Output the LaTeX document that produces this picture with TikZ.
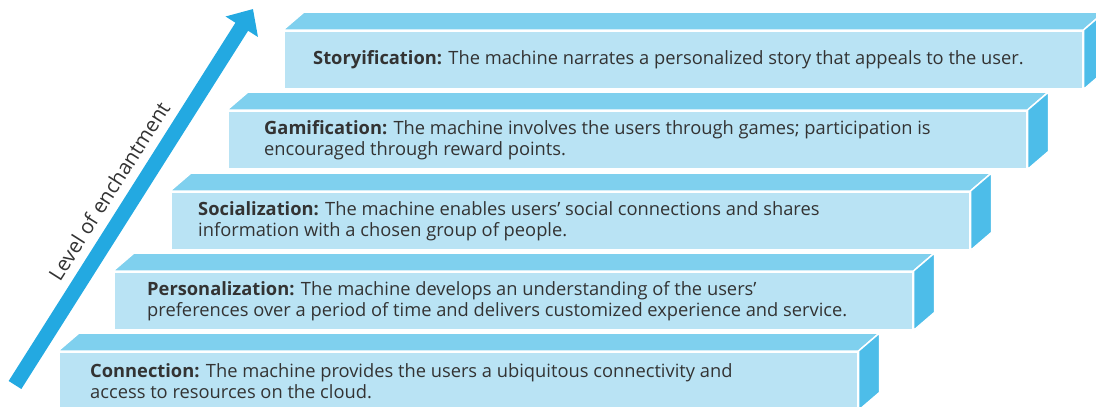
\documentclass[tikz,border=0pt]{standalone}
\usepackage{fontspec}
\setmainfont{Open Sans}
\usetikzlibrary{arrows.meta}
\definecolor{frontc}{HTML}{B9E3F4}
\definecolor{topc}{HTML}{7FD0EE}
\definecolor{sidec}{HTML}{4DBDE9}
\definecolor{arrowc}{HTML}{23A9E1}
\definecolor{textc}{HTML}{333333}
\tikzset{
  front/.style={rectangle, fill=frontc, draw=white, line width=1.5pt, minimum width=799pt, minimum height=58pt, anchor=north west, inner sep=0pt},
  topface/.style={fill=topc, draw=white, line width=1.5pt, line join=miter},
  sideface/.style={fill=sidec, draw=white, line width=1.5pt, line join=miter},
  label/.style={anchor=west, align=left, text=textc, inner sep=0pt, font=\fontsize{18.3pt}{21pt}\selectfont},
  axislabel/.style={anchor=center, text=textc, inner sep=0pt, font=\fontsize{20.5pt}{22pt}\selectfont},
  enchant/.style={draw=arrowc, line width=15pt, -{Triangle[length=21pt, width=37pt]}},
}
\newcommand{\stepbox}[5]{% name, x, y, inset, text
  \node[front] (#1) at (#2,#3) {};
  \path[topface] (#1.north west) -- ++(21,-18) -- ([xshift=21pt,yshift=18pt]#1.north east) -- (#1.north east) -- cycle;
  \path[sideface] (#1.north east) -- ++(21,-18) -- ([xshift=21pt,yshift=18pt]#1.south east) -- (#1.south east) -- cycle;
  \node[label] (#1t) at ([xshift=#4pt]#1.west) {#5};
}
\begin{document}
\begin{tikzpicture}[x=1pt, y=-1pt]
\useasboundingbox (0,0) rectangle (1096,407);
\stepbox{s1}{58}{351}{32}{\textbf{Connection:} The machine provides the users a ubiquitous connectivity and\\access to resources on the cloud.}
\stepbox{s2}{113}{271}{34}{\textbf{Personalization:} The machine develops an understanding of the users'\\preferences over a period of time and delivers customized experience and service.}
\stepbox{s3}{170}{191}{28}{\textbf{Socialization:} The machine enables users' social connections and shares\\information with a chosen group of people.}
\stepbox{s4}{227}{110}{37}{\textbf{Gamification:} The machine involves the users through games; participation is\\encouraged through reward points.}
\stepbox{s5}{283}{30}{30}{\textbf{Storyification:} The machine narrates a personalized story that appeals to the user.}
\coordinate (abot) at (15,385);
\coordinate (atip) at (253,9);
\draw[enchant] (abot) -- (atip);
\node[axislabel, rotate=57.6] (lvl) at (109,191) {Level of enchantment};
\end{tikzpicture}
\end{document}
